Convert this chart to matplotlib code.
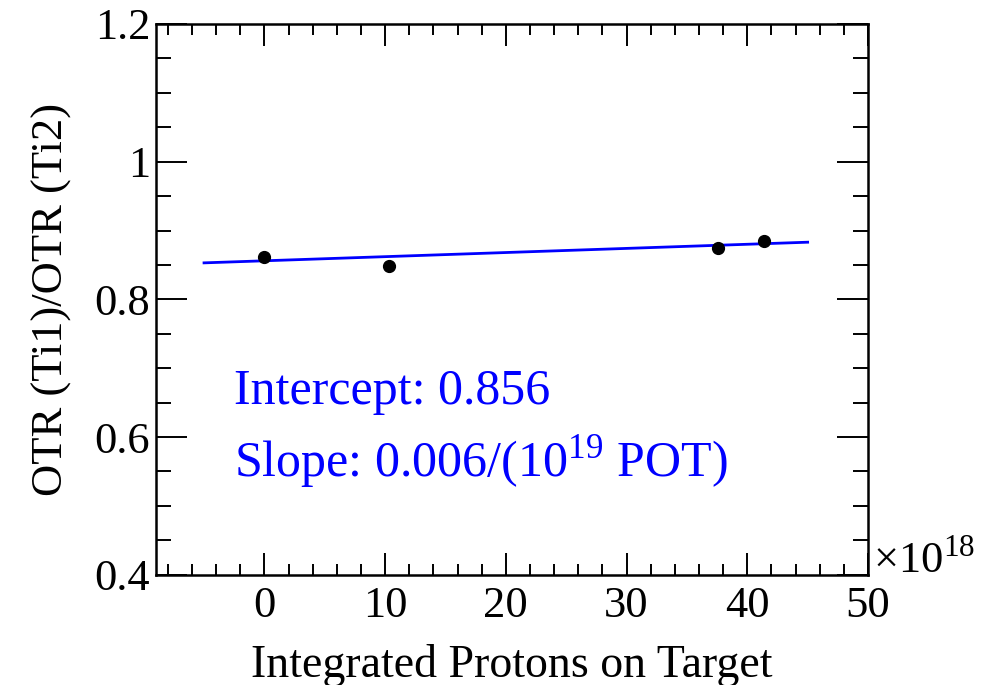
import numpy as np
import matplotlib
matplotlib.use("Agg")
import matplotlib.pyplot as plt
from matplotlib.ticker import MultipleLocator, FuncFormatter

# integrated POT in units of 1e18, OTR Ti1/Ti2 ratio
pot = [0.0, 10.3, 37.6, 41.4]
ratio = [0.862, 0.849, 0.875, 0.885]

# linear fit: intercept, slope per 1e19 POT, fitted range (1e18 POT)
fit_intercept = 0.856
fit_slope_per_1e19 = 0.006
fit_range = [-5.0, 45.0]

plt.rcParams["font.family"] = ["Liberation Serif", "DejaVu Serif"]
plt.rcParams["mathtext.fontset"] = "custom"
plt.rcParams["mathtext.rm"] = "Liberation Serif"

fig = plt.figure(figsize=(9.92, 6.85), dpi=100)
ax = fig.add_axes([0.157, 0.161, 0.718, 0.804])

fx = np.array(fit_range)
fy = fit_intercept + fit_slope_per_1e19 / 10.0 * fx
ax.plot(fx, fy, color="#0000ff", lw=2.0, zorder=2)
ax.plot(pot, ratio, "o", color="black", ms=8.5, zorder=3)

ax.set_xlim(-9, 50)
ax.set_ylim(0.4, 1.2)
ax.xaxis.set_major_locator(MultipleLocator(10))
ax.xaxis.set_minor_locator(MultipleLocator(2))
ax.yaxis.set_major_locator(MultipleLocator(0.2))
ax.yaxis.set_minor_locator(MultipleLocator(0.05))
ax.yaxis.set_major_formatter(FuncFormatter(lambda v, _: f"{v:g}"))
ax.xaxis.set_major_formatter(FuncFormatter(lambda v, _: f"{v:g}"))

ax.tick_params(which="both", direction="in", top=True, right=True,
               labelsize=32, colors="black", width=1.4)
ax.tick_params(axis="x", which="major", length=16, pad=8)
ax.tick_params(axis="x", which="minor", length=8)
ax.tick_params(axis="y", which="major", length=22, pad=4)
ax.tick_params(axis="y", which="minor", length=11)
for sp in ax.spines.values():
    sp.set_linewidth(1.8)

ax.set_xlabel("Integrated Protons on Target", fontsize=33, labelpad=13)
ax.set_ylabel("OTR (Ti1)/OTR (Ti2)", fontsize=32, labelpad=16)

ax.text(1.007, 0.003, "×10$^{18}$", transform=ax.transAxes, fontsize=32,
        ha="left", va="baseline")

ax.text(0.11, 0.31, f"Intercept: {fit_intercept:.3f}", transform=ax.transAxes,
        color="#0000ff", fontsize=36, ha="left", va="baseline")
ax.text(0.11, 0.178, f"Slope: {fit_slope_per_1e19:.3f}/(10$^{{19}}$ POT)",
        transform=ax.transAxes, color="#0000ff", fontsize=36,
        ha="left", va="baseline")

fig.savefig("out.png", dpi=100)
